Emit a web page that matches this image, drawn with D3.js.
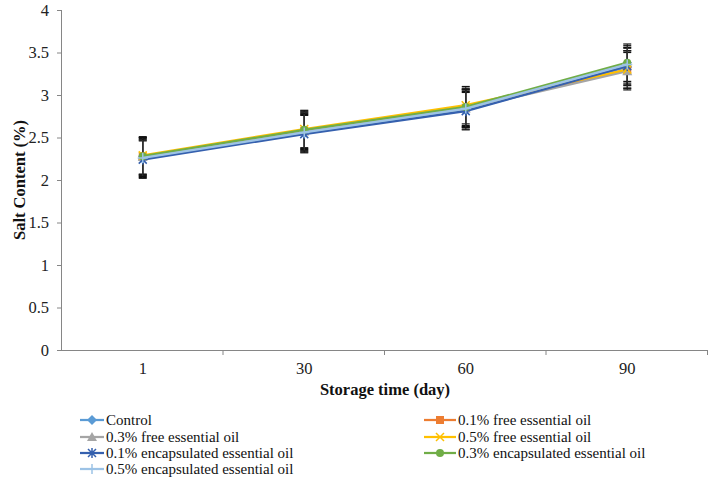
<!DOCTYPE html>
<html><head><meta charset="utf-8">
<script src="https://cdn.jsdelivr.net/npm/d3@7"></script>
<style>body{margin:0;background:#fff}svg{display:block}text{font-family:"Liberation Serif","Times New Roman",serif}</style>
</head><body><svg id="c" width="709" height="478"></svg>
<script>
const categories = ["1","30","60","90"];
const seriesNames = ["Control","0.1% free essential oil","0.3% free essential oil","0.5% free essential oil","0.1% encapsulated essential oil","0.3% encapsulated essential oil","0.5% encapsulated essential oil"];
const control   = [2.25, 2.55, 2.82, 3.33];
const free01    = [2.28, 2.58, 2.85, 3.30];
const free03    = [2.27, 2.57, 2.84, 3.28];
const free05    = [2.29, 2.60, 2.88, 3.30];
const enc01     = [2.24, 2.54, 2.81, 3.34];
const enc03     = [2.28, 2.59, 2.86, 3.38];
const enc05     = [2.26, 2.56, 2.84, 3.36];
const errors    = [0.22, 0.22, 0.22, 0.22];
const yTicks = [0,0.5,1,1.5,2,2.5,3,3.5,4];
const colors = ["#5B9BD5","#ED7D31","#A5A5A5","#FFC000","#3560AE","#70AD47","#9DC3E6"];
const markers = ["diamond","square","triangle","x","star","circle","plus"];
const seriesValues = [control, free01, free03, free05, enc01, enc03, enc05];

(function(){
const svg = d3.select("#c");
const FONT = "Liberation Serif";
const pl = 62, pr = 708, pt = 10, pb = 350;
const x = d3.scaleBand().domain(categories).range([pl, pr]);
const y = d3.scaleLinear().domain([0,4]).range([pb, pt]);
const axisColor = "#868686";

// Y axis
const ya = svg.append("g").attr("transform",`translate(${pl},0)`)
  .call(d3.axisLeft(y).tickValues(yTicks).tickSize(5).tickPadding(8).tickFormat(d=>d));
ya.attr("font-family",FONT);
ya.selectAll("path,line").attr("stroke",axisColor);
ya.selectAll("text").attr("font-size",16.5).attr("fill","#222");
ya.select(".domain").attr("d",`M-0.5,${pt}V${pb}`);

// X axis
const xa = svg.append("g").attr("transform",`translate(0,${pb})`)
  .call(d3.axisBottom(x).tickSize(0).tickPadding(12));
xa.attr("font-family",FONT);
xa.select(".domain").attr("stroke",axisColor).attr("d",`M${pl},0.5H${pr}`);
xa.selectAll("text").attr("font-size",16.5).attr("fill","#222");
const bounds = categories.map(c=>x(c)).concat([pr]);
xa.selectAll(".btick").data(bounds.slice(1)).enter().append("line")
  .attr("x1",d=>d-0.5).attr("x2",d=>d-0.5).attr("y1",0).attr("y2",5).attr("stroke",axisColor);

// Titles
svg.append("text").attr("x",385).attr("y",395).attr("text-anchor","middle").attr("font-family",FONT)
  .attr("font-size",16.5).attr("font-weight","bold").attr("fill","#111").text("Storage time (day)");
svg.append("text").attr("transform","translate(25,180) rotate(-90)").attr("text-anchor","middle").attr("font-family",FONT)
  .attr("font-size",16.5).attr("font-weight","bold").attr("fill","#111").text("Salt Content (%)");

function drawMarker(g, type, color, cx, cy){
  const s = 4;
  if(type==="diamond") g.append("path").attr("d",`M${cx},${cy-s-1}L${cx+s+1},${cy}L${cx},${cy+s+1}L${cx-s-1},${cy}Z`).attr("fill",color);
  else if(type==="square") g.append("rect").attr("x",cx-s).attr("y",cy-s).attr("width",2*s).attr("height",2*s).attr("fill",color);
  else if(type==="triangle") g.append("path").attr("d",`M${cx},${cy-s-1}L${cx+s+1},${cy+s}L${cx-s-1},${cy+s}Z`).attr("fill",color);
  else if(type==="x") g.append("path").attr("d",`M${cx-s},${cy-s}L${cx+s},${cy+s}M${cx-s},${cy+s}L${cx+s},${cy-s}`).attr("stroke",color).attr("stroke-width",1.5);
  else if(type==="star") g.append("path").attr("d",`M${cx-s},${cy-s}L${cx+s},${cy+s}M${cx-s},${cy+s}L${cx+s},${cy-s}M${cx},${cy-s-1}L${cx},${cy+s+1}`).attr("stroke",color).attr("stroke-width",1.5);
  else if(type==="circle") g.append("circle").attr("cx",cx).attr("cy",cy).attr("r",s).attr("fill",color);
  else if(type==="plus") g.append("path").attr("d",`M${cx-s-1},${cy}L${cx+s+1},${cy}M${cx},${cy-s-1}L${cx},${cy+s+1}`).attr("stroke",color).attr("stroke-width",1.5);
}

const cxf = c => x(c) + x.bandwidth()/2;
const line = d3.line().x((d,i)=>cxf(categories[i])).y(d=>y(d));

// error bars
const eg = svg.append("g");
seriesValues.forEach(vals=>{
  vals.forEach((v,i)=>{
    const px = cxf(categories[i]);
    const e = errors[i];
    eg.append("line").attr("x1",px).attr("x2",px).attr("y1",y(v+e)).attr("y2",y(v-e)).attr("stroke","#333").attr("stroke-width",1);
    [v+e, v-e].forEach(t=>eg.append("line").attr("x1",px-4).attr("x2",px+4).attr("y1",y(t)).attr("y2",y(t)).attr("stroke","#111").attr("stroke-width",1.2));
  });
});

// lines + markers
seriesValues.forEach((vals,k)=>{
  const g = svg.append("g");
  g.append("path").datum(vals).attr("d",line).attr("fill","none").attr("stroke",colors[k]).attr("stroke-width",2.25);
  vals.forEach((v,i)=>drawMarker(g, markers[k], colors[k], cxf(categories[i]), y(v)));
});

// Legend
const legPos = [[80,420],[424,420],[80,437],[424,437],[80,453],[424,453],[80,469]];
seriesNames.forEach((name,k)=>{
  const [lx,ly] = legPos[k];
  const g = svg.append("g");
  const w = k%2===0 ? 24 : 32;
  g.append("line").attr("x1",lx).attr("x2",lx+w).attr("y1",ly).attr("y2",ly).attr("stroke",colors[k]).attr("stroke-width",2.25);
  drawMarker(g, markers[k], colors[k], lx+w/2, ly);
  g.append("text").attr("x",lx+w+2).attr("y",ly+5).attr("font-family",FONT).attr("font-size",15).attr("fill","#111").text(name);
});
})();
</script></body></html>
